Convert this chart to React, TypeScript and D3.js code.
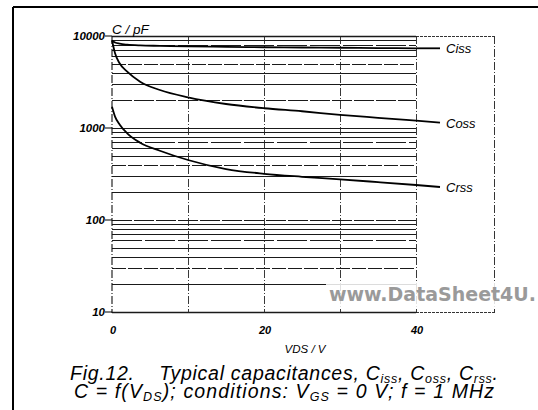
import React from "react";
import * as d3 from "d3";

const vds = [0, 0.4, 1, 2, 3.7, 6.3, 10, 15, 20, 25, 30, 35, 40];
const ciss = [8900, 8500, 8250, 8050, 7900, 7820, 7720, 7620, 7550, 7500, 7450, 7400, 7350];
const coss = [9000, 6490, 5050, 4090, 3185, 2588, 2153, 1823, 1640, 1520, 1390, 1290, 1200];
const crss = [1700, 1330, 1090, 875, 692, 566, 449, 358, 318, 295, 277, 258, 240];

const xTicks = [0, 20, 40];
const xGrid = [10, 20, 30];
const yTickLabels = [10, 100, 1000, 10000];
const seriesNames = ["Ciss", "Coss", "Crss"];

const FONT = "'Liberation Sans', Arial, Helvetica, sans-serif";

export default function App() {
  const x = d3.scaleLinear().domain([0, 40]).range([112, 416]);
  const y = d3.scaleLog().domain([10, 10000]).range([312, 36]);
  const crisp = (v: number) => Math.round(v) + 0.5;

  const minor: number[] = [];
  [10, 100, 1000].forEach((d) => {
    for (let m = 1; m <= 9; m++) minor.push(d * m);
  });
  minor.push(10000);

  const line = d3
    .line<number>()
    .x((_, i) => x(vds[i]))
    .y((v) => y(v))
    .curve(d3.curveMonotoneX);

  const series = [ciss, coss, crss];
  const labelY = [y(ciss[ciss.length - 1]), y(coss[coss.length - 1]) + 2, y(crss[crss.length - 1]) + 2];

  const dashes = ["", "", "14,2", "", "", "30,3", "", "", "", "20,2"];

  return (
    <svg width={538} height={410} style={{ display: "block", position: "absolute", left: 0, top: 0 }}>
      <rect x={0} y={0} width={538} height={410} fill="#fff" />
      {/* outer frame */}
      <line x1={13} x2={538} y1={7} y2={7} stroke="#000" strokeWidth={2} />
      <line x1={13} x2={13} y1={7} y2={410} stroke="#000" strokeWidth={2} />

      {/* extended label box */}
      <line x1={x(40)} x2={494} y1={36.5} y2={36.5} stroke="#000" strokeWidth={0.8} strokeDasharray="3,1" />
      <line x1={494.5} x2={494.5} y1={36} y2={313} stroke="#000" strokeWidth={0.8} strokeDasharray="8,2,1,2" />
      <line x1={x(40)} x2={494} y1={312.5} y2={312.5} stroke="#000" strokeWidth={0.8} strokeDasharray="3,1" />

      {/* horizontal grid */}
      {minor.map((v, i) => (
        <line
          key={"h" + i}
          x1={x(0)}
          x2={x(40)}
          y1={crisp(y(v))}
          y2={crisp(y(v))}
          stroke="#1a1a1a"
          strokeWidth={v === 10 || v === 10000 ? 1.3 : 1}
          strokeDasharray={dashes[i % dashes.length]}
        />
      ))}
      {/* vertical grid */}
      {xGrid.map((v) => (
        <line key={"v" + v} x1={crisp(x(v))} x2={crisp(x(v))} y1={36} y2={313} stroke="#222" strokeWidth={0.9} strokeDasharray="8,2,1,2" />
      ))}
      <line x1={x(0)} x2={x(0)} y1={36} y2={313} stroke="#111" strokeWidth={1.1} strokeDasharray="8,2,1,2" />
      <line x1={crisp(x(40))} x2={crisp(x(40))} y1={36} y2={313} stroke="#222" strokeWidth={0.9} strokeDasharray="8,2,1,2" />

      {/* y ticks */}
      {yTickLabels.map((v) => (
        <g key={"yt" + v}>
          <line x1={105} x2={x(0)} y1={y(v)} y2={y(v)} stroke="#000" strokeWidth={1} />
          <text x={105} y={y(v) + 4} textAnchor="end" fontFamily={FONT} fontStyle="italic" fontWeight="bold" fontSize={11.5}>
            {v}
          </text>
        </g>
      ))}
      <text x={112} y={34} fontFamily={FONT} fontStyle="italic" fontSize={13.5}>
        C / pF
      </text>

      {/* x ticks */}
      {xTicks.map((v) => (
        <text key={"xt" + v} x={x(v) + 1} y={334} textAnchor="middle" fontFamily={FONT} fontStyle="italic" fontWeight="bold" fontSize={11}>
          {v}
        </text>
      ))}
      <text x={305} y={353} textAnchor="middle" fontFamily={FONT} fontStyle="italic" fontSize={11.5}>
        VDS / V
      </text>

      {/* curves */}
      {series.map((s, i) => (
        <g key={"s" + i}>
          <path d={line(s) || ""} fill="none" stroke="#000" strokeWidth={1.8} />
          <line x1={x(40)} x2={440} y1={y(s[s.length - 1])} y2={labelY[i]} stroke="#000" strokeWidth={1.8} />
          <text x={446} y={labelY[i] + 5} fontFamily={FONT} fontStyle="italic" fontSize={13}>
            {seriesNames[i]}
          </text>
        </g>
      ))}

      {/* watermark */}
      <rect x={326} y={283} width={212} height={24} fill="#fff" opacity={0.85} />
      <text x={329} y={301} fontFamily="'DejaVu Sans Condensed', 'DejaVu Sans', sans-serif" fontWeight="bold" fontSize={20} fill="#9a9a9a" textLength={207} lengthAdjust="spacingAndGlyphs">
        www.DataSheet4U.
      </text>

      {/* caption */}
      <text x={70} y={380} fontFamily={FONT} fontStyle="italic" fontSize={19.5} textLength={428} lengthAdjust="spacing">
        Fig.12.{"\u00a0\u00a0\u00a0\u00a0"}Typical capacitances, C
        <tspan fontSize={12.5} dy={3}>iss</tspan>
        <tspan dy={-3}>, C</tspan>
        <tspan fontSize={12.5} dy={3}>oss</tspan>
        <tspan dy={-3}>, C</tspan>
        <tspan fontSize={12.5} dy={3}>rss</tspan>
        <tspan dy={-3}>.</tspan>
      </text>
      <text x={74} y={398} fontFamily={FONT} fontStyle="italic" fontSize={19.5} textLength={420} lengthAdjust="spacing">
        C = f(V
        <tspan fontSize={12.5} dy={3}>DS</tspan>
        <tspan dy={-3}>); conditions: V</tspan>
        <tspan fontSize={12.5} dy={3}>GS</tspan>
        <tspan dy={-3}> = 0 V; f = 1 MHz</tspan>
      </text>
    </svg>
  );
}
